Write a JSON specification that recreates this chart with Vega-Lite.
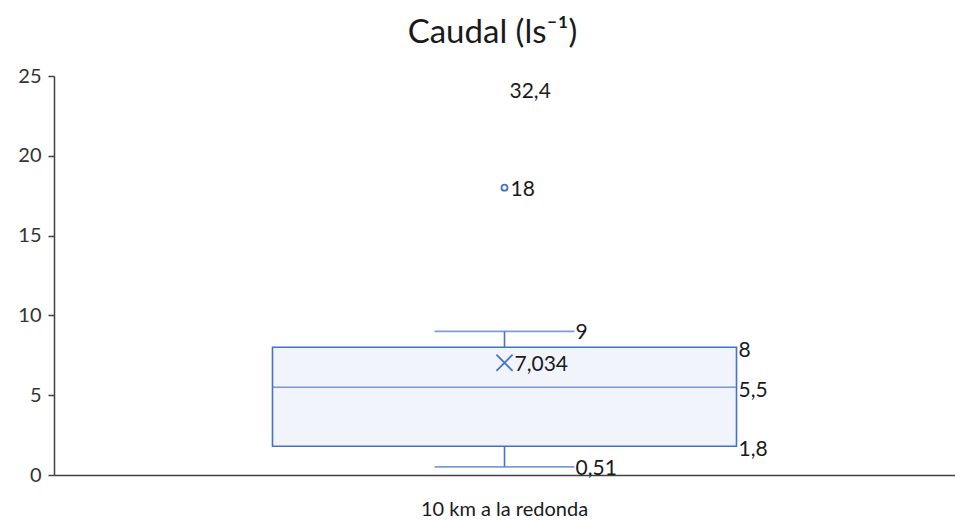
{
  "$schema": "https://vega.github.io/schema/vega-lite/v6.json",
  "width": 901,
  "height": 399,
  "autosize": "none",
  "padding": {"left": 54, "top": 76, "right": 0, "bottom": 45},
  "background": "white",
  "config": {
    "view": {"stroke": null},
    "font": "Lato",
    "axis": {"labelFont": "Lato", "grid": false}
  },
  "title": {
    "text": "Caudal (ls⁻¹)",
    "fontSize": 33,
    "fontWeight": "normal",
    "font": "Lato",
    "color": "#1a1a1a",
    "anchor": "middle",
    "offset": 16,
    "dx": -12
  },
  "datasets": {
    "caja": [
      {"grupo": "10 km a la redonda", "minimo": 0.51, "q1": 1.8, "mediana": 5.5, "q3": 8, "maximo": 9, "media": 7.034}
    ],
    "bigotes": [
      {"grupo": "10 km a la redonda", "valor": 0.51, "etiqueta": "0,51"},
      {"grupo": "10 km a la redonda", "valor": 9, "etiqueta": "9"}
    ],
    "cuartiles": [
      {"grupo": "10 km a la redonda", "valor": 1.8, "etiqueta": "1,8"},
      {"grupo": "10 km a la redonda", "valor": 5.5, "etiqueta": "5,5"},
      {"grupo": "10 km a la redonda", "valor": 8, "etiqueta": "8"}
    ],
    "atipicos": [
      {"grupo": "10 km a la redonda", "valor": 18, "etiqueta": "18"},
      {"grupo": "10 km a la redonda", "valor": 32.4, "etiqueta": "32,4"}
    ]
  },
  "encoding": {
    "x": {
      "field": "grupo",
      "type": "nominal",
      "scale": {"paddingInner": 0, "paddingOuter": 0},
      "axis": {
        "title": null,
        "ticks": false,
        "labelAngle": 0,
        "labelFontSize": 20,
        "labelColor": "#1a1a1a",
        "labelPadding": 24,
        "domainColor": "#404040",
        "domainWidth": 1.5
      }
    }
  },
  "layer": [
    {
      "data": {"name": "caja"},
      "mark": {"type": "bar", "width": {"band": 0.515}, "fill": "#f1f4fb", "stroke": "#4472c4", "strokeWidth": 1.6},
      "encoding": {
        "y": {
          "field": "q1",
          "type": "quantitative",
          "scale": {"domain": [0, 25], "clamp": true, "nice": false},
          "axis": {
            "title": null,
            "values": [0, 5, 10, 15, 20, 25],
            "labelFontSize": 20,
            "labelColor": "#333333",
            "tickSize": 6,
            "tickColor": "#404040",
            "tickWidth": 1.5,
            "domainColor": "#404040",
            "domainWidth": 1.5,
            "labelPadding": 7
          }
        },
        "y2": {"field": "q3"}
      }
    },
    {
      "data": {"name": "caja"},
      "mark": {"type": "rule", "stroke": "#4472c4", "strokeWidth": 1.6},
      "encoding": {"y": {"field": "minimo", "type": "quantitative"}, "y2": {"field": "q1"}}
    },
    {
      "data": {"name": "caja"},
      "mark": {"type": "rule", "stroke": "#4472c4", "strokeWidth": 1.6},
      "encoding": {"y": {"field": "q3", "type": "quantitative"}, "y2": {"field": "maximo"}}
    },
    {
      "data": {"name": "bigotes"},
      "mark": {"type": "tick", "orient": "horizontal", "size": 140, "thickness": 1.6, "color": "#4472c4"},
      "encoding": {"y": {"field": "valor", "type": "quantitative"}}
    },
    {
      "data": {"name": "caja"},
      "mark": {"type": "tick", "orient": "horizontal", "size": 464, "thickness": 1.6, "color": "#4472c4"},
      "encoding": {"y": {"field": "mediana", "type": "quantitative"}}
    },
    {
      "data": {"name": "caja"},
      "mark": {"type": "point", "shape": "M-1,-1L1,1M1,-1L-1,1", "size": 260, "filled": false, "stroke": "#4472c4", "strokeWidth": 1.8, "opacity": 1},
      "encoding": {"y": {"field": "media", "type": "quantitative"}}
    },
    {
      "data": {"name": "atipicos"},
      "transform": [{"filter": "datum.valor <= 25"}],
      "mark": {"type": "point", "shape": "circle", "size": 36, "filled": false, "stroke": "#4472c4", "strokeWidth": 1.8, "opacity": 1},
      "encoding": {"y": {"field": "valor", "type": "quantitative"}}
    },
    {
      "data": {"name": "bigotes"},
      "mark": {"type": "text", "align": "left", "baseline": "middle", "dx": 71, "dy": 2, "fontSize": 21, "color": "#1a1a1a"},
      "encoding": {"y": {"field": "valor", "type": "quantitative"}, "text": {"field": "etiqueta"}}
    },
    {
      "data": {"name": "cuartiles"},
      "mark": {"type": "text", "align": "left", "baseline": "middle", "dx": 234, "dy": 4, "fontSize": 21, "color": "#1a1a1a"},
      "encoding": {"y": {"field": "valor", "type": "quantitative"}, "text": {"field": "etiqueta"}}
    },
    {
      "data": {"name": "caja"},
      "mark": {"type": "text", "align": "left", "baseline": "middle", "dx": 10, "dy": 2, "fontSize": 21, "color": "#1a1a1a", "text": "7,034"},
      "encoding": {"y": {"field": "media", "type": "quantitative"}}
    },
    {
      "data": {"name": "atipicos"},
      "transform": [{"filter": "datum.valor <= 25"}],
      "mark": {"type": "text", "align": "left", "baseline": "middle", "dx": 6, "dy": 2, "fontSize": 21, "color": "#1a1a1a"},
      "encoding": {"y": {"field": "valor", "type": "quantitative"}, "text": {"field": "etiqueta"}}
    },
    {
      "data": {"name": "atipicos"},
      "transform": [{"filter": "datum.valor > 25"}],
      "mark": {"type": "text", "align": "left", "baseline": "middle", "dx": 5, "dy": 16, "fontSize": 21, "color": "#1a1a1a"},
      "encoding": {"y": {"field": "valor", "type": "quantitative"}, "text": {"field": "etiqueta"}}
    }
  ]
}
